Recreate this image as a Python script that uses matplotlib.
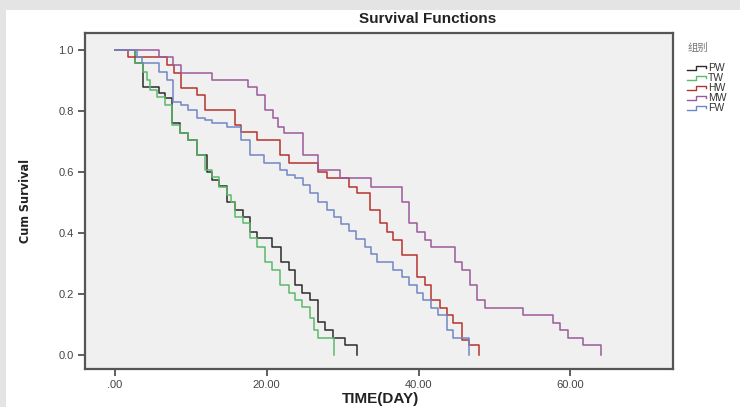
import matplotlib
matplotlib.use("Agg")
import matplotlib.pyplot as plt
from matplotlib.lines import Line2D
from matplotlib.legend_handler import HandlerBase
from matplotlib.patches import Rectangle

# ---- data ----
groups = ["PW", "TW", "HW", "MW", "FW"]
colors = ["#2b2b2b", "#5cb86a", "#b5332e", "#9b5b9b", "#6f86c6"]

pw_t = [0, 2.7, 3.8, 5.8, 6.6, 7.5, 8.6, 9.7, 10.8, 12.1, 12.8, 13.7, 14.8, 15.9, 16.9, 17.8,
        18.7, 20.7, 21.9, 22.9, 23.8, 24.6, 25.7, 26.8, 27.7, 28.8, 30.3, 31.9]
pw_s = [1.0, 0.956, 0.880, 0.858, 0.842, 0.760, 0.727, 0.705, 0.656, 0.601, 0.574, 0.554, 0.503,
        0.475, 0.453, 0.404, 0.383, 0.355, 0.306, 0.279, 0.230, 0.202, 0.180, 0.109, 0.082, 0.055,
        0.033, 0.0]

tw_t = [0, 2.7, 3.8, 4.2, 4.7, 5.6, 6.6, 7.5, 8.6, 9.7, 10.8, 11.9, 12.8, 13.7, 14.8, 15.3, 15.9,
        16.9, 17.8, 18.7, 19.8, 20.7, 21.8, 22.9, 23.8, 24.6, 25.7, 26.2, 26.8, 28.9]
tw_s = [1.0, 0.956, 0.929, 0.902, 0.869, 0.847, 0.820, 0.754, 0.727, 0.705, 0.656, 0.607, 0.585,
        0.552, 0.525, 0.503, 0.453, 0.432, 0.383, 0.355, 0.306, 0.279, 0.230, 0.202, 0.180, 0.158,
        0.120, 0.082, 0.055, 0.0]

hw_t = [0, 1.8, 6.9, 7.8, 8.8, 10.8, 11.9, 15.9, 16.7, 18.7, 21.8, 22.9, 26.8, 27.9, 30.8, 31.9,
        33.6, 34.9, 35.8, 36.7, 37.8, 39.8, 40.9, 41.7, 42.8, 43.7, 44.6, 45.7, 46.6, 47.9]
hw_s = [1.0, 0.978, 0.951, 0.924, 0.874, 0.852, 0.803, 0.754, 0.732, 0.705, 0.656, 0.628, 0.601,
        0.579, 0.552, 0.530, 0.475, 0.432, 0.404, 0.377, 0.328, 0.257, 0.230, 0.180, 0.153, 0.131,
        0.104, 0.049, 0.033, 0.0]

mw_t = [0, 5.8, 7.7, 8.8, 12.8, 17.6, 18.7, 19.8, 20.9, 21.5, 22.3, 24.8, 26.8, 29.7, 33.8, 37.8,
        38.7, 39.8, 40.9, 41.7, 44.8, 45.7, 46.8, 47.7, 48.8, 53.8, 57.7, 58.6, 59.7, 61.7, 64.0]
mw_s = [1.0, 0.978, 0.951, 0.924, 0.902, 0.880, 0.852, 0.803, 0.776, 0.749, 0.727, 0.656, 0.607,
        0.579, 0.552, 0.503, 0.432, 0.404, 0.377, 0.355, 0.306, 0.279, 0.230, 0.180, 0.153, 0.131,
        0.104, 0.082, 0.055, 0.033, 0.0]

fw_t = [0, 2.9, 3.6, 5.8, 6.9, 7.7, 8.8, 9.7, 10.8, 11.9, 12.8, 14.8, 16.7, 17.8, 19.7, 21.8, 22.7,
        23.8, 24.8, 25.7, 26.8, 27.9, 28.9, 29.8, 30.8, 31.8, 32.9, 33.8, 34.6, 36.7, 37.8, 38.7,
        39.8, 40.6, 41.7, 42.6, 43.7, 44.6, 46.6]
fw_s = [1.0, 0.978, 0.956, 0.929, 0.902, 0.830, 0.820, 0.803, 0.776, 0.770, 0.760, 0.749, 0.705,
        0.656, 0.628, 0.607, 0.590, 0.579, 0.557, 0.530, 0.503, 0.475, 0.453, 0.430, 0.405, 0.380,
        0.355, 0.330, 0.306, 0.279, 0.257, 0.230, 0.202, 0.180, 0.153, 0.131, 0.082, 0.055, 0.0]

x_ticks = [0, 20, 40, 60]
x_ticklabels = [".00", "20.00", "40.00", "60.00"]
y_ticks = [0.0, 0.2, 0.4, 0.6, 0.8, 1.0]
y_ticklabels = ["0.0", "0.2", "0.4", "0.6", "0.8", "1.0"]

series_t = [pw_t, tw_t, hw_t, mw_t, fw_t]
series_s = [pw_s, tw_s, hw_s, mw_s, fw_s]

# ---- figure ----
W, H = 740, 407
fig = plt.figure(figsize=(W / 100, H / 100), dpi=100)
fig.patch.set_facecolor("#e4e4e4")
fig.add_artist(Rectangle((6 / W, 0), 1 - 6 / W, (H - 10) / H, transform=fig.transFigure,
                         facecolor="white", edgecolor="none", zorder=-10))

ax = fig.add_axes([85 / W, (H - 369) / H, (673 - 85) / W, (369 - 33) / H])
ax.set_facecolor("#f0f0f0")

handles = []
for t, s, c, g in zip(series_t, series_s, colors, groups):
    ln, = ax.step(t, s, where="post", color=c, lw=1.1, label=g)
    handles.append(ln)

ax.set_xlim(-3.9, 73.5)
ax.set_ylim(-0.046, 1.056)
ax.set_xticks(x_ticks)
ax.set_xticklabels(x_ticklabels)
ax.set_yticks(y_ticks)
ax.set_yticklabels(y_ticklabels)
for sp in ax.spines.values():
    sp.set_color("#555555")
    sp.set_linewidth(1.6)
ax.tick_params(axis="both", direction="out", length=5, width=1.2, color="#444444",
               labelsize=8, labelcolor="#444444", pad=3)
for lab in ax.get_xticklabels() + ax.get_yticklabels():
    lab.set_family(["Liberation Sans", "DejaVu Sans"])

fig.text(428 / W, 1 - 19 / H, "Survival Functions", ha="center", va="center",
         fontsize=11, fontweight="bold", family=["Liberation Sans", "DejaVu Sans"], color="#222222")
fig.text(380 / W, 1 - 399 / H, "TIME(DAY)", ha="center", va="center",
         fontsize=11, fontweight="bold", family=["Liberation Sans", "DejaVu Sans"], color="#222222")
fig.text(26 / W, 1 - 201 / H, "Cum Survival", ha="center", va="center", rotation=90,
         fontsize=9, fontweight="bold", fontstretch="condensed",
         family=["DejaVu Sans"], color="#222222")


class StepHandler(HandlerBase):
    def create_artists(self, legend, orig_handle, xdescent, ydescent, width, height,
                       fontsize, trans):
        x0 = -xdescent
        xs = [x0, x0 + width * 0.45, x0 + width * 0.45, x0 + width * 0.92, x0 + width * 0.92]
        ys = [height * 0.15, height * 0.15, height * 0.7, height * 0.7, height * 0.45]
        line = Line2D(xs, ys, color=orig_handle.get_color(), lw=1.0)
        line.set_transform(trans)
        return [line]


leg = fig.legend(handles=handles, labels=groups, loc="upper left",
                 bbox_to_anchor=(680 / W, 1 - 36 / H), frameon=False,
                 handler_map={Line2D: StepHandler()}, fontsize=7.5, handlelength=1.9,
                 handletextpad=0.1, labelspacing=0.0, borderpad=0.2,
                 title="组别", title_fontproperties={"family": ["Noto Sans CJK SC", "DejaVu Sans"],
                                                     "size": 7.5})
leg.get_title().set_color("#777777")
for txt in leg.get_texts():
    txt.set_color("#333333")
    txt.set_family(["Liberation Sans", "DejaVu Sans"])
leg._legend_box.align = "left"
leg._legend_box.sep = 7

fig.savefig("out.png", dpi=100, facecolor=fig.get_facecolor())
